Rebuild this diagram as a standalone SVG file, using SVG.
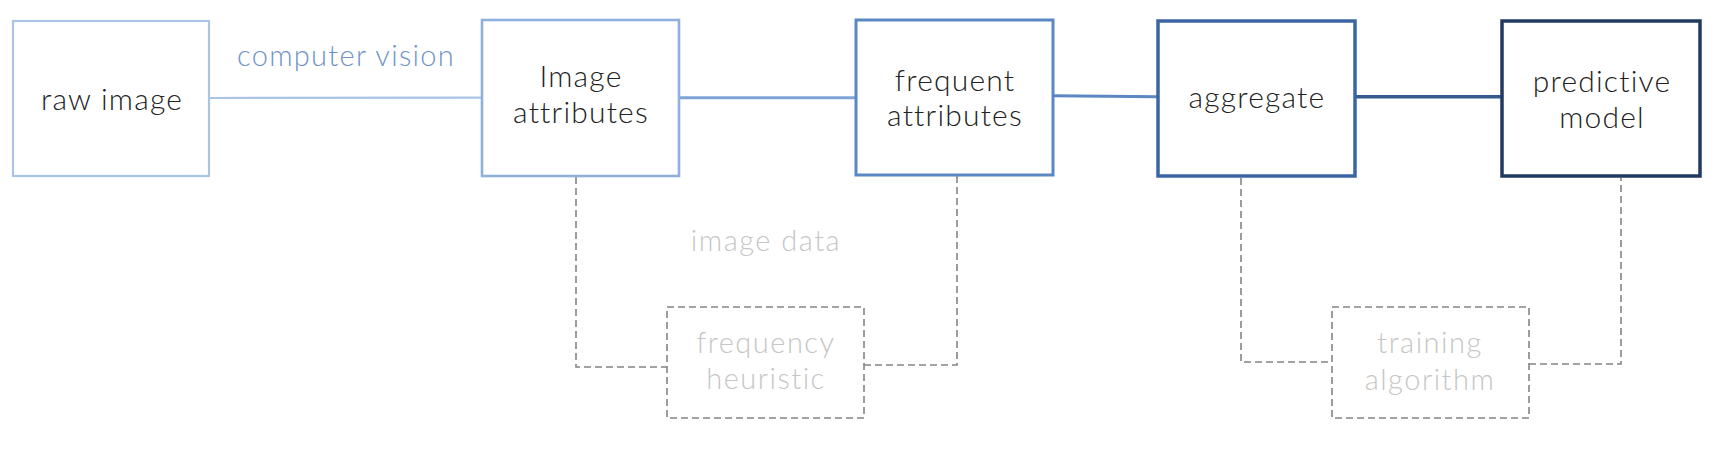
<svg xmlns="http://www.w3.org/2000/svg" width="1724" height="458" viewBox="0 0 1724 458">
<style>
text{font-family:"Lato","Open Sans",sans-serif;text-anchor:middle;font-weight:300}
.main{font-size:30px;fill:#222;letter-spacing:1.2px}
.gray{font-size:29px;fill:#c6c6c6;letter-spacing:1.5px}
.dash{fill:none;stroke:#848484;stroke-width:1.6;stroke-dasharray:7 4}
.box{fill:#fff}
</style>
<rect width="1724" height="458" fill="#fff"/>
<g id="connectors" fill="none">
<line x1="209" y1="98" x2="482" y2="97.7" stroke="#a9c4e4" stroke-width="2.2"/>
<line x1="679" y1="97.7" x2="856" y2="97.7" stroke="#7ea4d6" stroke-width="3"/>
<line x1="1053" y1="95.7" x2="1158" y2="96.7" stroke="#5b87c2" stroke-width="3"/>
<line x1="1355" y1="96.7" x2="1502" y2="96.7" stroke="#33598f" stroke-width="3.5"/>
<polyline class="dash" points="576,177 576,367 667,367"/>
<polyline class="dash" points="864,365 957,365 957,176"/>
<polyline class="dash" points="1241,178 1241,362 1332,362"/>
<polyline class="dash" points="1529,364 1621,364 1621,178"/>
<text x="346" y="66" style="font-size:29px;fill:#6f93c8;letter-spacing:1.3px">computer vision</text>
<text x="766" y="251" class="gray">image data</text>
</g>
<g id="raw-image">
<rect class="box" x="13" y="21" width="196" height="155" stroke="#a9c4e4" stroke-width="2.2"/>
<text x="112" y="110" class="main">raw image</text>
</g>
<g id="image-attributes">
<rect class="box" x="482" y="20" width="197" height="156" stroke="#8fb0dc" stroke-width="2.6"/>
<text x="581" y="87" class="main">Image</text>
<text x="581" y="123" class="main">attributes</text>
</g>
<g id="frequent-attributes">
<rect class="box" x="856" y="20" width="197" height="155" stroke="#5b87c2" stroke-width="3"/>
<text x="955" y="91" class="main">frequent</text>
<text x="955" y="126" class="main">attributes</text>
</g>
<g id="aggregate">
<rect class="box" x="1158" y="21" width="197" height="155" stroke="#3c66a3" stroke-width="3.5"/>
<text x="1257" y="108" class="main">aggregate</text>
</g>
<g id="predictive-model">
<rect class="box" x="1502" y="21" width="198" height="155" stroke="#223a60" stroke-width="3.5"/>
<text x="1602" y="92" class="main">predictive</text>
<text x="1602" y="128" class="main">model</text>
</g>
<g id="frequency-heuristic">
<rect class="dash" x="667" y="307" width="197" height="111"/>
<text x="766" y="353" class="gray">frequency</text>
<text x="766" y="389" class="gray">heuristic</text>
</g>
<g id="training-algorithm">
<rect class="dash" x="1332" y="307" width="197" height="111"/>
<text x="1430" y="353" class="gray">training</text>
<text x="1430" y="390" class="gray">algorithm</text>
</g>
</svg>
